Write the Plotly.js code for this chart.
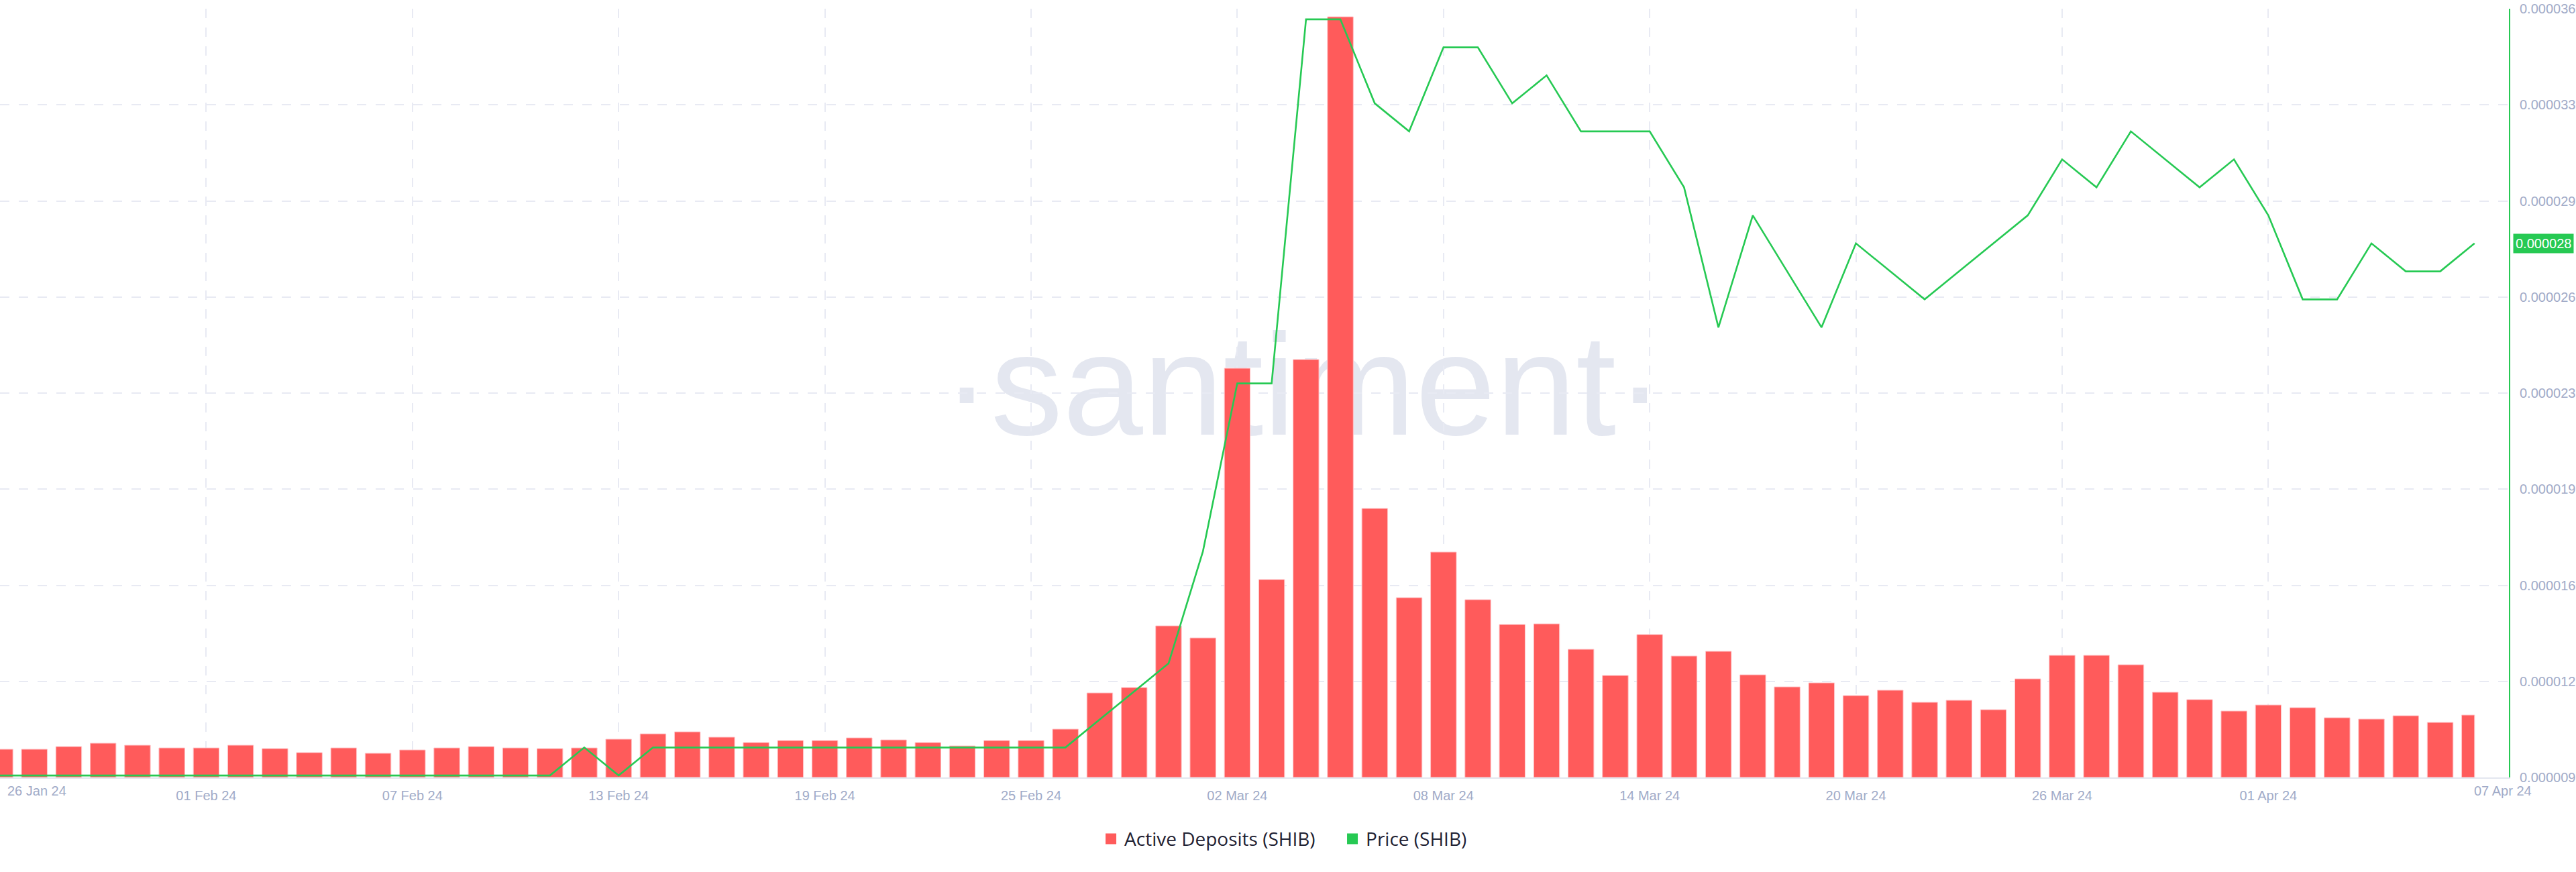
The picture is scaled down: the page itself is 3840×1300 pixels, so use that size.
<!DOCTYPE html>
<html>
<head>
<meta charset="utf-8">
<script src="https://cdn.plot.ly/plotly-3.0.1.min.js"></script>
<style>
html, body { margin: 0; padding: 0; background: #ffffff; }
#chart { width: 3840px; height: 1300px; }
</style>
</head>
<body>
<div id="chart"></div>
<script>
// ---------------- DATA ----------------
const dates = [
  '2024-01-26','2024-01-27','2024-01-28','2024-01-29','2024-01-30','2024-01-31',
  '2024-02-01','2024-02-02','2024-02-03','2024-02-04','2024-02-05','2024-02-06','2024-02-07','2024-02-08','2024-02-09','2024-02-10',
  '2024-02-11','2024-02-12','2024-02-13','2024-02-14','2024-02-15','2024-02-16','2024-02-17','2024-02-18','2024-02-19','2024-02-20',
  '2024-02-21','2024-02-22','2024-02-23','2024-02-24','2024-02-25','2024-02-26','2024-02-27','2024-02-28','2024-02-29',
  '2024-03-01','2024-03-02','2024-03-03','2024-03-04','2024-03-05','2024-03-06','2024-03-07','2024-03-08','2024-03-09','2024-03-10',
  '2024-03-11','2024-03-12','2024-03-13','2024-03-14','2024-03-15','2024-03-16','2024-03-17','2024-03-18','2024-03-19','2024-03-20',
  '2024-03-21','2024-03-22','2024-03-23','2024-03-24','2024-03-25','2024-03-26','2024-03-27','2024-03-28','2024-03-29','2024-03-30',
  '2024-03-31','2024-04-01','2024-04-02','2024-04-03','2024-04-04','2024-04-05','2024-04-06','2024-04-07'
];

const activeDeposits = [
  84, 84, 92, 102, 96, 88,
  88, 96, 86, 74, 88, 72, 82, 88, 92, 88,
  86, 88, 114, 130, 136, 120, 104, 110, 110, 118,
  112, 104, 94, 110, 110, 144, 252, 268, 452,
  416, 1220, 590, 1246, 2268, 802, 536, 672, 530, 456,
  458, 382, 304, 426, 362, 376, 306, 270, 282, 244,
  260, 224, 230, 202, 294, 364, 364, 336, 254, 232,
  198, 216, 208, 178, 174, 184, 164, 186
];

const priceSHIB = [
  0.000009, 0.000009, 0.000009, 0.000009, 0.000009, 0.000009,
  0.000009, 0.000009, 0.000009, 0.000009, 0.000009, 0.000009, 0.000009, 0.000009, 0.000009, 0.000009,
  0.000009, 0.000010, 0.000009, 0.000010, 0.000010, 0.000010, 0.000010, 0.000010, 0.000010, 0.000010,
  0.000010, 0.000010, 0.000010, 0.000010, 0.000010, 0.000010, 0.000011, 0.000012, 0.000013,
  0.000017, 0.000023, 0.000023, 0.000036, 0.000036, 0.000033, 0.000032, 0.000035, 0.000035, 0.000033,
  0.000034, 0.000032, 0.000032, 0.000032, 0.000030, 0.000025, 0.000029, 0.000027, 0.000025, 0.000028,
  0.000027, 0.000026, 0.000027, 0.000028, 0.000029, 0.000031, 0.000030, 0.000032, 0.000031, 0.000030,
  0.000031, 0.000029, 0.000026, 0.000026, 0.000028, 0.000027, 0.000027, 0.000028
];

const xTickDates = ['2024-01-26','2024-02-01','2024-02-07','2024-02-13','2024-02-19','2024-02-25',
                    '2024-03-02','2024-03-08','2024-03-14','2024-03-20','2024-03-26','2024-04-01','2024-04-07'];
const xTickLabels = ['26 Jan 24','01 Feb 24','07 Feb 24','13 Feb 24','19 Feb 24','25 Feb 24',
                     '02 Mar 24','08 Mar 24','14 Mar 24','20 Mar 24','26 Mar 24','01 Apr 24','07 Apr 24'];
const priceTickLabels = ['0.000009','0.000012','0.000016','0.000019','0.000023','0.000026','0.000029','0.000033','0.000036'];
const seriesNames = ['Active Deposits (SHIB)', 'Price (SHIB)'];
const watermarkText = '\u00B7santiment\u00B7';

// ---------------- STYLE ----------------
const RED = '#ff5b5b';
const GREEN = '#26c953';
const GRID = '#e8eaf3';
const TICK = '#a1abc8';
const FONT = 'Liberation Sans, Arial, sans-serif';
const LEGEND_FONT = 'Open Sans, Liberation Sans, Arial, sans-serif';
const DAY = 86400000;
const barW = 0.75 * DAY;
const n = dates.length;
const barWidths = dates.map((d, i) => (i === n - 1 ? barW / 2 : barW));
const barOffsets = dates.map(() => -barW / 2);

const priceRange = [8.93e-6, 36.38e-6];
const priceTickVals = priceTickLabels.map((_, i) =>
  priceRange[0] + i * (priceRange[1] - priceRange[0]) / (priceTickLabels.length - 1));
const depositMax = Math.max(...activeDeposits);
const depositRange = [0, depositMax * 1146 / 1134];

const lastPrice = priceSHIB[n - 1];

const traces = [
  {
    type: 'bar', x: dates, y: activeDeposits, yaxis: 'y', xaxis: 'x',
    width: barWidths, offset: barOffsets,
    marker: { color: RED, line: { color: '#ffc4c8', width: 1 } },
    showlegend: false, hoverinfo: 'x+y', name: seriesNames[0]
  },
  {
    type: 'scatter', mode: 'lines', x: dates, y: priceSHIB, yaxis: 'y2', xaxis: 'x',
    line: { color: GREEN, width: 2.6 },
    showlegend: false, name: seriesNames[1]
  },
  {
    type: 'scatter', mode: 'markers', x: [null], y: [null], yaxis: 'y2',
    marker: { symbol: 'square', size: 18, color: RED },
    name: seriesNames[0], showlegend: true
  },
  {
    type: 'scatter', mode: 'markers', x: [null], y: [null], yaxis: 'y2',
    marker: { symbol: 'square', size: 18, color: GREEN },
    name: seriesNames[1], showlegend: true
  }
];

const layout = {
  width: 3840, height: 1300,
  margin: { l: 0, r: 100, t: 13, b: 141, pad: 0 },
  paper_bgcolor: '#ffffff', plot_bgcolor: '#ffffff',
  font: { family: FONT, color: TICK, size: 20 },
  xaxis: {
    type: 'date', range: ['2024-01-26', '2024-04-08'],
    tickvals: xTickDates.slice(0, -1),
    ticktext: xTickLabels.slice(0, -1).map((t, i) => (i === 0 ? '' : t)),
    showgrid: true, gridcolor: GRID, gridwidth: 2, griddash: '14px,14px',
    showline: true, linecolor: '#e3e6ef', linewidth: 2,
    ticks: '', tickfont: { size: 20, color: TICK, family: FONT },
    ticklabelstandoff: 8, zeroline: false, fixedrange: true
  },
  yaxis: {
    range: depositRange, visible: false, showgrid: false, zeroline: false, fixedrange: true
  },
  yaxis2: {
    overlaying: 'y', side: 'right', range: priceRange,
    tickvals: priceTickVals, ticktext: priceTickLabels,
    showgrid: true, gridcolor: GRID, gridwidth: 2, griddash: '14px,14px',
    showline: true, linecolor: GREEN, linewidth: 2,
    ticks: '', tickfont: { size: 20, color: TICK, family: FONT },
    ticklabelstandoff: 10, zeroline: false, fixedrange: true
  },
  legend: {
    orientation: 'h', x: 0.5337, xanchor: 'center', y: -0.08, yanchor: 'middle',
    font: { size: 28, color: '#1f2233', family: LEGEND_FONT },
    itemsizing: 'trace', itemwidth: 30, entrywidth: 315, bgcolor: 'rgba(0,0,0,0)'
  },
  shapes: [
    {
      type: 'rect', xref: 'paper', yref: 'paper', layer: 'below',
      x0: 0.386, x1: 0.653, y0: 0.453, y1: 0.603,
      line: { width: 0 }, fillcolor: 'rgba(0,0,0,0)',
      label: {
        text: watermarkText, textposition: 'middle center',
        font: { size: 215, color: '#e4e7f0', family: FONT }
      }
    }
  ],
  annotations: [
    {
      xref: 'paper', yref: 'paper', x: 0, y: 0, xanchor: 'left', yanchor: 'middle',
      xshift: 9, yshift: -20, text: xTickLabels[0], showarrow: false,
      font: { size: 20, color: TICK, family: FONT }
    },
    {
      xref: 'x', yref: 'paper', x: xTickDates[xTickDates.length - 1], y: 0,
      xanchor: 'left', yanchor: 'middle', xshift: -3, yshift: -20,
      text: xTickLabels[xTickLabels.length - 1], showarrow: false,
      font: { size: 20, color: TICK, family: FONT }
    },
    {
      xref: 'paper', yref: 'y2', x: 1, y: lastPrice, xanchor: 'left', yanchor: 'middle',
      xshift: 6, text: lastPrice.toFixed(6), showarrow: false,
      bgcolor: GREEN, borderpad: 3,
      font: { size: 20, color: '#ffffff', family: FONT }
    }
  ]
};

Plotly.newPlot('chart', traces, layout, { displayModeBar: false, staticPlot: true });
</script>
</body>
</html>
